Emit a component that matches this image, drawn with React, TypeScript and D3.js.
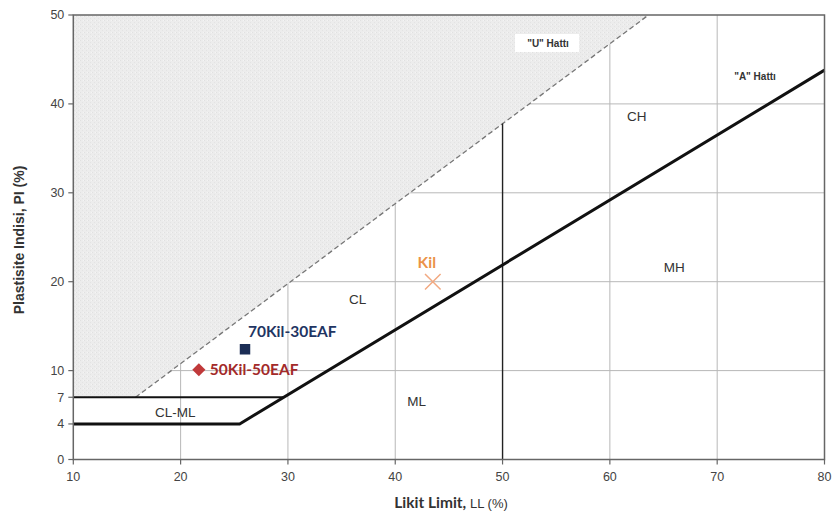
import React from "react";
import * as d3 from "d3";

// Plasticity chart (Casagrande) with sample points
const xTicks = [10, 20, 30, 40, 50, 60, 70, 80];
const yTicks = [0, 4, 7, 10, 20, 30, 40, 50];
const xGrid = [20, 30, 40, 60, 70];
const yGrid = [10, 20, 30, 40];

// Reference lines as [LL, PI] vertices
const uLine: [number, number][] = [[15.8, 7], [63.6, 50]];
const aLine: [number, number][] = [[10, 4], [25.5, 4], [80, 43.8]];
const clmlTop: [number, number][] = [[10, 7], [29.6, 7]];
const ll50Line: [number, number][] = [[50, 0], [50, 37.8]];
const shadeArea: [number, number][] = [[10, 7], [15.8, 7], [63.6, 50], [10, 50]];

// Zone labels
const zoneNames = ["CH", "MH", "CL", "ML", "CL-ML"];
const zoneLL = [62.5, 66, 36.5, 42, 19.5];
const zonePI = [38.6, 21.6, 18, 6.5, 5.3];

// Samples
const sampleNames = ["Kil", "70Kil-30EAF", "50Kil-50EAF"];
const sampleLL = [43.5, 26.0, 21.7];
const samplePI = [20.0, 12.4, 10.1];

export default function App() {
  const W = 835, H = 521;
  const x = d3.scaleLinear().domain([10, 80]).range([73.3, 824.5]);
  const y = d3.scaleLinear().domain([0, 50]).range([459.5, 15]);
  const line = d3.line<[number, number]>().x(d => x(d[0])).y(d => y(d[1]));
  const sans = "'Liberation Sans', Arial, sans-serif";
  const bold = "Lato, 'Open Sans', sans-serif";

  const diamond = d3.symbol().type(d3.symbolDiamond2).size(110)();
  const square = d3.symbol().type(d3.symbolSquare).size(110)();
  const cross = d3.symbol().type(d3.symbolX).size(160)();

  const markerColors = ["#f2a981", "#1b2d55", "#c0393a"];
  const labelColors = ["#eb9248", "#1f3563", "#a32a2a"];
  const markers = [cross, square, diamond];
  const labelDx = [-6, 3, 11];
  const labelDy = [-19, -18, 0];
  const anchors = ["middle", "start", "start"];

  return (
    <svg width={W} height={H} style={{ position: "absolute", left: 0, top: 0, background: "#fff" }}>
      <defs>
        <pattern id="grain" width="4" height="4" patternUnits="userSpaceOnUse">
          <rect width="4" height="4" fill="#ececec" />
          <rect x="0" y="0" width="1" height="1" fill="#e0e0e0" />
          <rect x="2" y="2" width="1" height="1" fill="#e3e3e3" />
          <rect x="3" y="0" width="1" height="1" fill="#f4f4f4" />
        </pattern>
      </defs>

      {/* grid */}
      {yGrid.map(v => (
        <line key={"gy" + v} x1={x(10)} x2={x(80)} y1={y(v)} y2={y(v)} stroke="#b8b8b8" strokeWidth={1} />
      ))}
      {xGrid.map(v => (
        <line key={"gx" + v} x1={x(v)} x2={x(v)} y1={y(0)} y2={y(50)} stroke="#b8b8b8" strokeWidth={1} />
      ))}

      {/* region above the U line */}
      <path d={line(shadeArea) + "Z"} fill="url(#grain)" />

      {/* reference lines */}
      <path d={line(uLine)!} fill="none" stroke="#777" strokeWidth={1.3} strokeDasharray="5,3" />
      <path d={line(ll50Line)!} fill="none" stroke="#222" strokeWidth={1.4} />
      <path d={line(clmlTop)!} fill="none" stroke="#111" strokeWidth={2.2} />
      <path d={line(aLine)!} fill="none" stroke="#111" strokeWidth={3} strokeLinejoin="round" />

      {/* frame */}
      <rect x={x(10)} y={y(50)} width={x(80) - x(10)} height={y(0) - y(50)} fill="none" stroke="#666" strokeWidth={1.5} />

      {/* ticks */}
      {yTicks.map(v => (
        <g key={"ty" + v}>
          <line x1={x(10) - 5} x2={x(10)} y1={y(v)} y2={y(v)} stroke="#666" strokeWidth={1.2} />
          <text x={x(10) - 9} y={y(v)} dy="0.35em" textAnchor="end" fontFamily={sans} fontSize={12.5} fill="#444">{v}</text>
        </g>
      ))}
      {xTicks.map(v => (
        <g key={"tx" + v}>
          <line x1={x(v)} x2={x(v)} y1={y(0)} y2={y(0) + 5} stroke="#666" strokeWidth={1.2} />
          <text x={x(v)} y={y(0) + 21} textAnchor="middle" fontFamily={sans} fontSize={12.5} fill="#444">{v}</text>
        </g>
      ))}

      {/* line names */}
      <rect x={515} y={34} width={64} height={18} fill="#fff" />
      <text x={548} y={47} textAnchor="middle" fontFamily={sans} fontSize={10} fontWeight="bold" fill="#333">"U" Hattı</text>
      <text x={755} y={80} textAnchor="middle" fontFamily={sans} fontSize={10} fontWeight="bold" fill="#333">"A" Hattı</text>

      {/* zone labels */}
      {zoneNames.map((n, i) => (
        <text key={n} x={x(zoneLL[i])} y={y(zonePI[i])} dy="0.35em" textAnchor="middle" fontFamily={sans} fontSize={13.5} fill="#333">{n}</text>
      ))}

      {/* samples */}
      {sampleNames.map((n, i) => (
        <g key={n} transform={`translate(${x(sampleLL[i])},${y(samplePI[i])})`}>
          {i === 0 ? (
            <path d={markers[i]!} fill="none" stroke={markerColors[i]} strokeWidth={1.5} />
          ) : (
            <path d={markers[i]!} fill={markerColors[i]} />
          )}
          <text x={labelDx[i]} y={labelDy[i]} dy="0.35em" textAnchor={anchors[i]} fontFamily={bold} fontWeight="bold" fontSize={15.5} fill={labelColors[i]}>{n}</text>
        </g>
      ))}

      {/* axis titles */}
      <text transform={`translate(24,${240}) rotate(-90)`} textAnchor="middle" fontFamily={sans} fontSize={14} fontWeight="bold" fill="#333">Plastisite Indisi, PI (%)</text>
      <text x={451} y={508} textAnchor="middle" fill="#333">
        <tspan fontFamily={bold} fontWeight="bold" fontSize={15.5}>Likit Limit, </tspan>
        <tspan fontFamily={sans} fontSize={13}> LL (%)</tspan>
      </text>
    </svg>
  );
}
